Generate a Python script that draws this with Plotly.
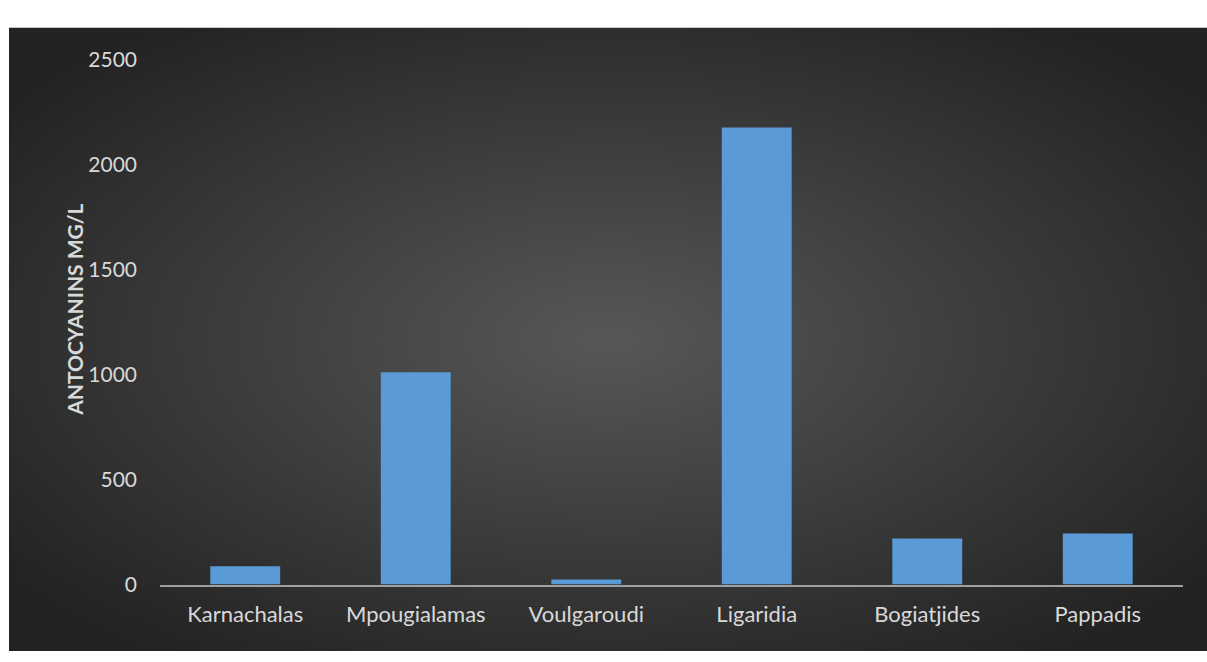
import plotly.graph_objects as go

# Anthocyanin content per variety
varieties = ["Karnachalas", "Mpougialamas", "Voulgaroudi", "Ligaridia", "Bogiatjides", "Pappadis"]
anthocyanins = [87, 1010, 24, 2175, 220, 243]
y_ticks = [0, 500, 1000, 1500, 2000, 2500]

W, H = 1207, 662


def py(px_from_top):
    """Paper fraction for a pixel offset measured from the top edge."""
    return (H - px_from_top) / H


# Dark radial-gradient backdrop as an inline SVG
bg_svg = (
    "<svg xmlns='http://www.w3.org/2000/svg' viewBox='0 0 1198 648' preserveAspectRatio='none'>"
    "<defs><radialGradient id='g' cx='50%' cy='50%' r='62%'>"
    "<stop offset='0%' stop-color='#575757'/>"
    "<stop offset='100%' stop-color='#232323'/>"
    "</radialGradient></defs>"
    "<rect width='1198' height='648' fill='url(#g)'/></svg>"
)
bg_uri = "data:image/svg+xml;charset=utf-8," + bg_svg.replace("#", "%23").replace("<", "%3C").replace(">", "%3E")

font_main = "Lato, 'Open Sans', sans-serif"

fig = go.Figure(
    go.Bar(
        x=varieties,
        y=anthocyanins,
        marker=dict(color="#5a9ad6", line=dict(width=0)),
        hoverinfo="x+y",
    )
)

fig.update_layout(
    width=W,
    height=H,
    margin=dict(l=0, r=0, t=0, b=0),
    paper_bgcolor="white",
    plot_bgcolor="rgba(0,0,0,0)",
    bargap=0.59,
    showlegend=False,
    font=dict(family=font_main, size=21, color="#d9d9d9"),
    images=[
        dict(
            source=bg_uri,
            xref="paper", yref="paper",
            x=9 / W, y=py(14),
            sizex=(W - 9) / W, sizey=py(14),
            xanchor="left", yanchor="top",
            sizing="stretch",
            layer="below",
        )
    ],
    xaxis=dict(
        domain=[160 / W, 1183 / W],
        showline=True,
        linecolor="#a0a0a0",
        linewidth=2,
        showgrid=False,
        zeroline=False,
        ticks="",
        ticklabelstandoff=9,
        tickfont=dict(family=font_main, size=22, color="#d9d9d9"),
    ),
    yaxis=dict(
        domain=[py(593), py(47)],
        range=[0, 2500],
        tickvals=y_ticks,
        showline=False,
        showgrid=False,
        zeroline=False,
        ticks="",
        ticklabelstandoff=22,
        tickfont=dict(family=font_main, size=21, color="#d9d9d9"),
    ),
    annotations=[
        dict(
            text="<b>ANTOCYANINS MG/L</b>",
            xref="paper", yref="paper",
            x=60 / W, y=py(308),
            textangle=-90,
            showarrow=False,
            font=dict(family=font_main, size=21, color="#d9d9d9"),
        )
    ],
)

fig.write_html("out.html")
